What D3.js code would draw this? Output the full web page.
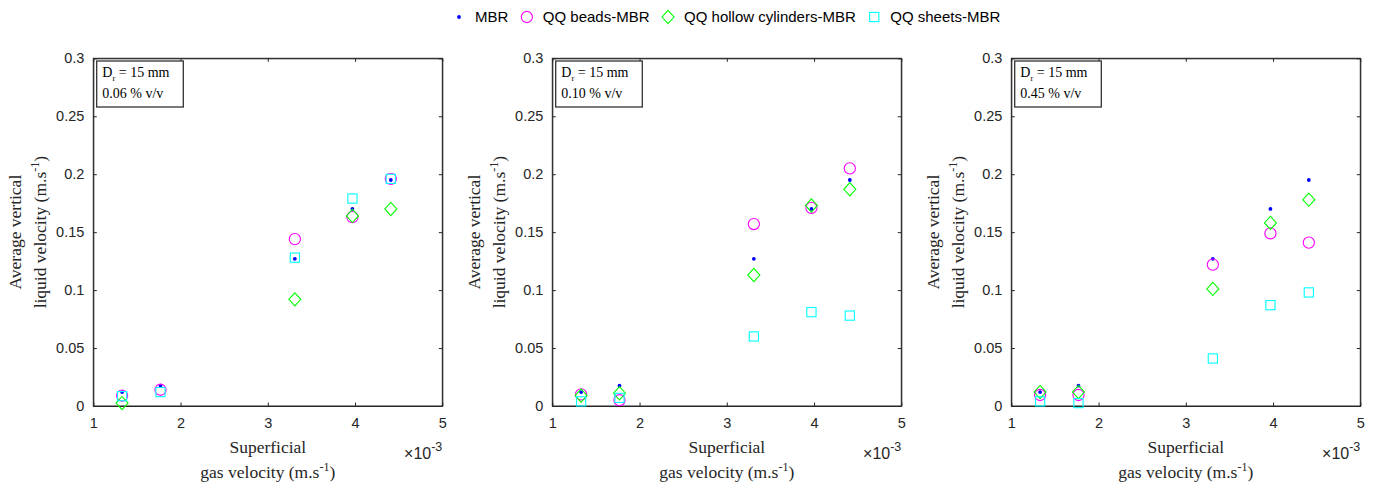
<!DOCTYPE html>
<html>
<head>
  <meta charset="utf-8">
  <script src="https://d3js.org/d3.v7.min.js"></script>
  <style>
    body { margin: 0; background: #fff; }
    .tick text { font-family: "Liberation Sans", Arial, sans-serif; font-size: 14.5px; fill: #262626; }
    .lab { font-family: "Liberation Serif", "Times New Roman", serif; font-size: 17.5px; fill: #262626; }
    .note { font-family: "Liberation Serif", "Times New Roman", serif; font-size: 14px; fill: #000; }
    .leg { font-family: "Liberation Sans", Arial, sans-serif; font-size: 15px; fill: #000; }
  </style>
</head>
<body>
<div id="chart"></div>
<script>
const width = 1373;
const height = 489;

// superficial gas velocity (m/s)
const gasVelocity = [0.00133, 0.00177, 0.00331, 0.00397, 0.00441];
const xTicks = [0.001, 0.002, 0.003, 0.004, 0.005];
const yTicks = [0, 0.05, 0.1, 0.15, 0.2, 0.25, 0.3];

const seriesNames = ["MBR", "QQ beads-MBR", "QQ hollow cylinders-MBR", "QQ sheets-MBR"];
const seriesColors = ["#0000ff", "#ff00ff", "#00ff00", "#00ffff"];
const concentrations = ["0.06", "0.10", "0.45"];

// average vertical liquid velocity (m/s)
const mbr = [0.012, 0.0175, 0.127, 0.170, 0.195];
const beads06 = [0.009, 0.014, 0.144, 0.163, 0.196];
const hollow06 = [0.0025, null, 0.092, 0.164, 0.170];
const sheets06 = [0.0085, 0.012, 0.128, 0.179, 0.196];
const beads10 = [0.010, 0.005, 0.157, 0.171, 0.205];
const hollow10 = [0.009, 0.011, 0.113, 0.173, 0.187];
const sheets10 = [0.004, 0.007, 0.060, 0.081, 0.078];
const beads45 = [0.0095, 0.0095, 0.122, 0.149, 0.141];
const hollow45 = [0.012, 0.012, 0.101, 0.158, 0.178];
const sheets45 = [0.004, 0.0025, 0.041, 0.087, 0.098];

const panels = [
  [mbr, beads06, hollow06, sheets06],
  [mbr, beads10, hollow10, sheets10],
  [mbr, beads45, hollow45, sheets45]
];

const svg = d3.select("#chart").append("svg")
  .attr("width", width)
  .attr("height", height);

// marker shapes
function marker(sel, i) {
  const c = seriesColors[i];
  if (i === 0) {
    sel.append("circle").attr("r", 1.9).attr("fill", c);
  } else if (i === 1) {
    sel.append("circle").attr("r", 5.6).attr("fill", "none").attr("stroke", c).attr("stroke-width", 1.1);
  } else if (i === 2) {
    sel.append("path").attr("d", "M0,-6.6L6,0L0,6.6L-6,0Z").attr("fill", "none").attr("stroke", c).attr("stroke-width", 1.1);
  } else {
    sel.append("rect").attr("x", -4.6).attr("y", -4.6).attr("width", 9.2).attr("height", 9.2)
      .attr("fill", "none").attr("stroke", c).attr("stroke-width", 1.1);
  }
}

const pw = 349, ph = 347.7, axTop = 58.3, step = 459;

panels.forEach((series, p) => {
  const left = 93.3 + p * step;
  const x = d3.scaleLinear().domain([0.001, 0.005]).range([left, left + pw]);
  const y = d3.scaleLinear().domain([0, 0.3]).range([axTop + ph, axTop]);
  const g = svg.append("g");

  // axes with inward ticks on all sides
  g.append("g").attr("transform", `translate(0,${axTop + ph})`)
    .call(d3.axisBottom(x).tickValues(xTicks).tickFormat(d => d3.format("d")(d * 1000)).tickSizeInner(-3.5).tickSizeOuter(0).tickPadding(12));
  g.append("g").attr("transform", `translate(0,${axTop})`)
    .call(d3.axisTop(x).tickValues(xTicks).tickFormat("").tickSizeInner(-3.5).tickSizeOuter(0));
  g.append("g").attr("transform", `translate(${left},0)`)
    .call(d3.axisLeft(y).tickValues(yTicks).tickFormat(d => d3.format("")(+d.toFixed(2))).tickSizeInner(-3.5).tickSizeOuter(0).tickPadding(9));
  g.append("g").attr("transform", `translate(${left + pw},0)`)
    .call(d3.axisRight(y).tickValues(yTicks).tickFormat("").tickSizeInner(-3.5).tickSizeOuter(0));
  g.selectAll(".domain").attr("stroke", "#262626");
  g.selectAll(".tick line").attr("stroke", "#262626");

  g.append("rect").attr("x", left).attr("y", axTop).attr("width", pw).attr("height", ph)
    .attr("fill", "none").attr("stroke", "#262626").attr("stroke-width", 1);

  // exponent
  const ex = g.append("text").attr("x", left + pw).attr("y", 459)
    .attr("text-anchor", "end")
    .style("font-family", "Liberation Sans, Arial, sans-serif").style("font-size", "16px").style("fill", "#262626");
  ex.append("tspan").text("\u00d710");
  ex.append("tspan").attr("dy", -8).style("font-size", "12.5px").text("-3");

  // axis labels
  const cx = left + pw / 2;
  g.append("text").attr("class", "lab").attr("x", cx).attr("y", 453).attr("text-anchor", "middle").text("Superficial");
  const xl = g.append("text").attr("class", "lab").attr("x", cx).attr("y", 478).attr("text-anchor", "middle");
  xl.append("tspan").text("gas velocity (m.s");
  xl.append("tspan").attr("dy", -7).style("font-size", "12px").text("-1");
  xl.append("tspan").attr("dy", 7).text(")");

  const cy = axTop + ph / 2;
  const yl = g.append("g").attr("transform", `translate(${left - 72},${cy}) rotate(-90)`);
  yl.append("text").attr("class", "lab").attr("x", 0).attr("y", 0).attr("text-anchor", "middle").text("Average vertical");
  const yl2 = yl.append("text").attr("class", "lab").attr("x", 0).attr("y", 25).attr("text-anchor", "middle");
  yl2.append("tspan").text("liquid velocity (m.s");
  yl2.append("tspan").attr("dy", -7).style("font-size", "12px").text("-1");
  yl2.append("tspan").attr("dy", 7).text(")");

  // annotation box
  g.append("rect").attr("x", left + 3.4).attr("y", axTop + 2.7).attr("width", 86.6).attr("height", 46)
    .attr("fill", "#fff").attr("stroke", "#333").attr("stroke-width", 1.3);
  const n1 = g.append("text").attr("class", "note").attr("x", left + 9).attr("y", axTop + 18.4);
  n1.append("tspan").text("D");
  n1.append("tspan").attr("dy", 4).style("font-size", "8.5px").text("r");
  n1.append("tspan").attr("dy", -4).text(" = 15 mm");
  g.append("text").attr("class", "note").attr("x", left + 9).attr("y", axTop + 40)
    .text(concentrations[p] + " % v/v");

  // points
  series.forEach((vals, i) => {
    const pts = vals.map((v, k) => ({ x: gasVelocity[k], y: v })).filter(d => d.y !== null);
    g.append("g").selectAll("g").data(pts).join("g")
      .attr("transform", d => `translate(${x(d.x)},${y(d.y)})`)
      .each(function() { marker(d3.select(this), i); });
  });
});

// legend
const leg = svg.append("g");
let lx = 459;
seriesNames.forEach((name, i) => {
  const m = leg.append("g").attr("transform", `translate(${lx},17)`);
  marker(m, i);
  const t = leg.append("text").attr("class", "leg").attr("x", lx + 16).attr("y", 22).text(name);
  lx = lx + 16 + t.node().getComputedTextLength() + 18.5;
});
</script>
</body>
</html>
